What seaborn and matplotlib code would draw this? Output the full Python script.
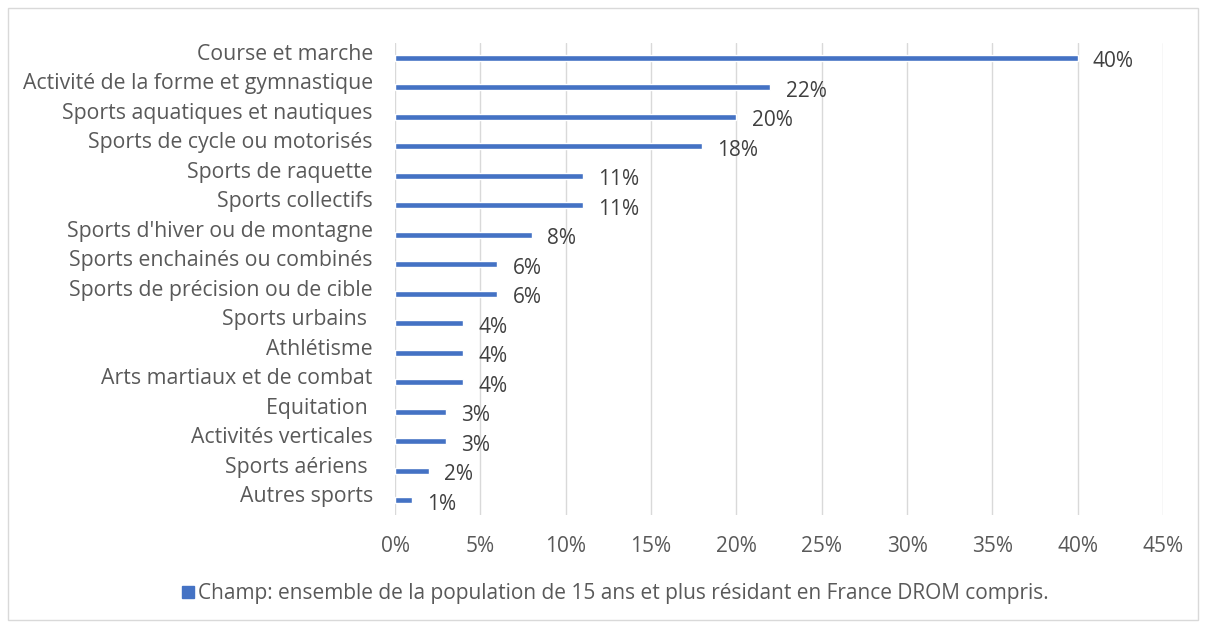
import seaborn as sns
import matplotlib.pyplot as plt
import matplotlib.transforms as mtransforms
import pandas as pd
from matplotlib.patches import Rectangle
from matplotlib.lines import Line2D
from matplotlib.ticker import FuncFormatter

categories = [
    "Course et marche",
    "Activité de la forme et gymnastique",
    "Sports aquatiques et nautiques",
    "Sports de cycle ou motorisés",
    "Sports de raquette",
    "Sports collectifs",
    "Sports d'hiver ou de montagne",
    "Sports enchainés ou combinés",
    "Sports de précision ou de cible",
    "Sports urbains ",
    "Athlétisme",
    "Arts martiaux et de combat",
    "Equitation ",
    "Activités verticales",
    "Sports aériens ",
    "Autres sports",
]
values = [40, 22, 20, 18, 11, 11, 8, 6, 6, 4, 4, 4, 3, 3, 2, 1]
legend_label = "Champ: ensemble de la population de 15 ans et plus résidant en France DROM compris."

BLUE = "#4472C4"
TEXT = "#595959"
FS = 15

df = pd.DataFrame({"cat": categories, "val": values})

sns.set_theme(style="white")
plt.rcParams["font.family"] = ["Open Sans", "DejaVu Sans"]

fig = plt.figure(figsize=(12.06, 6.28), dpi=100)
ax = fig.add_axes([395 / 1206, 1 - 515 / 628, (1163 - 395) / 1206, (515 - 43) / 628])

sns.barplot(data=df, x="val", y="cat", color=BLUE, width=0.2, ax=ax, saturation=1)

ax.set_xlim(0, 45)
ax.set_xticks(range(0, 46, 5))
ax.xaxis.set_major_formatter(FuncFormatter(lambda x, _: f"{int(x)}%"))
ax.grid(axis="x", color="#D9D9D9", linewidth=1)
ax.set_axisbelow(True)
for s in ax.spines.values():
    s.set_visible(False)
ax.set_xlabel("")
ax.set_ylabel("")
ax.tick_params(axis="x", labelsize=FS, colors=TEXT, length=0, pad=15)
ax.tick_params(axis="y", labelsize=FS + 0.3, colors=TEXT, length=0, pad=16)
# category labels sit slightly above their bar
shift = mtransforms.ScaledTranslation(0, 6 / 100, fig.dpi_scale_trans)
for lbl in ax.get_yticklabels():
    lbl.set_transform(lbl.get_transform() + shift)

for i, v in enumerate(values):
    ax.annotate(f"{v}%", (v, i), xytext=(11, -3), textcoords="offset points",
                va="center", ha="left", fontsize=FS, color="#404040")

handle = Line2D([], [], marker="s", linestyle="", markersize=9, color=BLUE)
fig.legend([handle], [legend_label], loc="center", bbox_to_anchor=(614 / 1206, 1 - 594 / 628),
           frameon=False, fontsize=FS, handletextpad=0.1, labelcolor=TEXT, handlelength=0.8)

fig.patches.append(Rectangle((8 / 1206, 8 / 628), 1190 / 1206, 612 / 628, transform=fig.transFigure,
                             fill=False, edgecolor="#D9D9D9", linewidth=1))

fig.savefig("out.png", dpi=100)
